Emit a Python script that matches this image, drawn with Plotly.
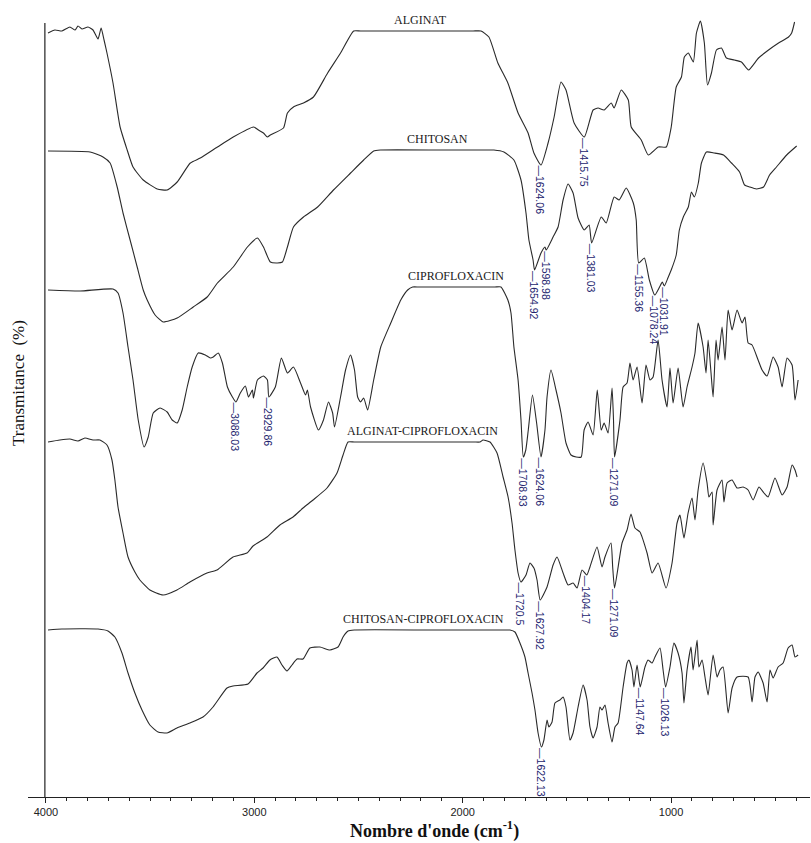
import plotly.graph_objects as go

# ---------------- data (wavenumber cm-1, transmittance in arbitrary stacked units) ----------------
wn_alginat = [3990, 3957, 3923, 3885, 3860, 3846, 3827, 3798, 3774, 3750, 3735, 3721, 3707,
              3678, 3644, 3610, 3582, 3533, 3466, 3418, 3370, 3307, 3259, 3177, 3101, 3004, 2980,
              2956, 2937, 2923, 2860, 2841, 2812, 2764, 2716, 2648, 2586, 2523, 2490, 2200, 1950,
              1912, 1874, 1831,
              1783, 1734, 1686, 1658, 1624, 1590, 1561, 1528, 1504, 1465, 1416, 1374, 1350, 1321,
              1287, 1273, 1239, 1205, 1191, 1143, 1109, 1061, 1023, 999, 975, 950, 936, 917, 893,
              878, 859, 840, 825, 806, 782, 758, 734, 696, 662, 628, 580, 532, 484, 436, 421, 407]
t_alginat = [767, 770, 769, 773, 770, 774, 771, 773, 770, 761, 772, 760, 747,
             717, 673, 650, 633, 620, 611, 610, 618, 637, 642, 653, 663, 673, 670,
             667, 663, 665, 672, 687, 693, 697, 703, 727, 747, 769, 769, 769, 769,
             769, 763, 737,
             717, 687, 667, 647, 635, 657, 683, 718, 710, 677, 663, 690, 692, 690,
             697, 692, 710, 700, 673, 660, 645, 653, 653, 673, 713, 723, 743, 747, 738,
             767, 779, 757, 715, 727, 750, 752, 742, 740, 738, 730, 742, 750, 757, 763, 767, 778]

wn_chitosan = [3990, 3788, 3726, 3692, 3658, 3630, 3596, 3562, 3533, 3514, 3476, 3437, 3370,
               3293, 3226, 3177, 3101, 3033, 2985, 2956, 2923, 2889, 2865, 2841, 2812, 2764,
               2696, 2620, 2538, 2475, 2427, 2395, 2100, 1885, 1850, 1802, 1754, 1720, 1696,
               1682, 1662, 1655,
               1624, 1605, 1599, 1566, 1542, 1518, 1494, 1470, 1446, 1417, 1393, 1381, 1335,
               1311, 1273, 1249, 1215, 1181, 1167, 1155, 1128, 1104, 1078, 1055, 1042, 1032,
               1015, 999, 975, 960, 941, 917, 902, 888, 869, 854, 830, 792, 748, 710, 671, 647,
               623, 590, 556, 527, 494, 445, 397]
t_chitosan = [649, 648, 643, 637, 613, 587, 560, 533, 510, 500, 485, 478, 482,
              493, 503, 517, 533, 553, 562, 553, 538, 537, 538, 553, 573, 583,
              593, 610, 627, 640, 649, 650, 650, 650, 650, 648, 640, 620, 587,
              560, 540, 530,
              547, 553, 550, 563, 573, 600, 616, 607, 582, 570, 575, 557, 583,
              577, 603, 600, 612, 597, 580, 537, 542, 520, 505, 513, 518, 514,
              522, 530, 545, 570, 583, 593, 608, 603, 617, 637, 648, 647, 645, 637, 628, 615,
              613, 611, 613, 625, 633, 645, 654]

wn_cipro = [3990, 3836, 3678, 3654, 3630, 3606, 3582, 3557, 3529, 3509, 3485, 3452, 3418, 3394,
            3370, 3346, 3322, 3298, 3269, 3235, 3211, 3197, 3173, 3153, 3129, 3105, 3088, 3067,
            3043, 3028, 3009, 3004, 2985, 2956, 2937, 2930, 2899, 2870, 2841, 2812, 2778, 2754,
            2745, 2730, 2692, 2668, 2644, 2624, 2615, 2586, 2562, 2538, 2519, 2504, 2490, 2475,
            2456, 2427, 2393, 2345, 2297, 2264, 2240, 2210, 2000, 1845, 1816, 1783, 1768, 1754,
            1734, 1720, 1709,
            1697, 1685, 1665, 1645, 1624, 1605, 1595, 1576, 1552, 1528, 1504, 1480, 1455, 1431,
            1417, 1398, 1374, 1354, 1335, 1321, 1302, 1283, 1276, 1271, 1245, 1230, 1211, 1197,
            1182, 1163, 1139, 1120, 1101, 1086, 1062, 1043, 1019, 1005, 990, 966, 942, 923, 899,
            885, 870, 846, 832, 822, 808, 798, 784, 774, 755, 741, 726, 707, 683, 659, 645, 630,
            611, 582, 563, 539, 510, 486, 467, 443, 419, 405, 390]
t_cipro = [510, 509, 511, 507, 487, 453, 420, 380, 353, 363, 387, 392, 388, 380,
           377, 390, 413, 433, 447, 445, 442, 443, 447, 437, 413, 403, 398, 407,
           414, 403, 410, 402, 420, 424, 420, 403, 413, 442, 427, 433, 417, 405,
           410, 393, 370, 380, 398, 387, 373, 403, 430, 445, 430, 403, 398, 402,
           390, 420, 453, 477, 500, 510, 513, 513, 513, 513, 513, 500, 487, 453,
           420, 380, 343,
           350, 370, 405, 377, 343, 370, 403, 430, 410, 387, 357, 345, 343, 343,
           370, 378, 365, 410, 370, 377, 367, 412, 380, 343, 380, 413, 417, 437,
           420, 433, 397, 435, 420, 423, 460, 420, 393, 432, 397, 432, 393, 413, 433,
           447, 477, 453, 427, 460, 427, 403, 460, 440, 473, 440, 490, 470, 490, 477, 483, 457,
           455, 440, 430, 424, 443, 433, 413, 442, 435, 400, 420]

wn_alg_cipro = [3990, 3933, 3885, 3846, 3813, 3774, 3741, 3707, 3683, 3669, 3654, 3630, 3606,
                3573, 3549, 3501, 3438, 3371, 3309, 3227, 3179, 3102, 3035, 3006, 2939, 2877,
                2814, 2766, 2718, 2651, 2603, 2574, 2550, 2520, 2200, 1945, 1917, 1902, 1869,
                1835, 1806, 1782,
                1763, 1749, 1734, 1720.5, 1696, 1677, 1658, 1643, 1628, 1595, 1566, 1547, 1518,
                1494, 1470, 1451, 1427, 1404, 1389, 1355, 1331, 1317, 1288, 1280, 1271, 1235,
                1211, 1192, 1173, 1149, 1115, 1091, 1062, 1024, 995, 971, 957, 938, 918, 899,
                885, 870, 846, 827, 818, 803, 798, 779, 755, 746, 731, 707, 683, 654, 630, 606,
                578, 554, 534, 501, 467, 443, 419, 405, 395]
t_alg_cipro = [358, 360, 361, 359, 362, 360, 360, 355, 340, 320, 293, 267, 243,
               228, 220, 210, 205, 210, 218, 227, 230, 243, 247, 254, 263, 275,
               283, 292, 300, 312, 327, 345, 358, 358, 358, 358, 358, 360, 358,
               347, 323, 303,
               277, 250, 227, 218, 225, 237, 232, 220, 200, 213, 235, 243, 227,
               215, 217, 212, 230, 225, 233, 253, 233, 243, 257, 233, 212, 257,
               270, 286, 272, 268, 247, 227, 237, 212, 237, 277, 285, 262, 287, 302,
               280, 310, 337, 317, 303, 308, 275, 310, 320, 298, 317, 320, 312, 313, 310, 300,
               313, 307, 303, 322, 305, 313, 335, 330, 323]

wn_chit_cipro = [3990, 3923, 3750, 3702, 3669, 3635, 3606, 3573, 3539, 3501, 3462, 3419, 3371,
                 3309, 3246, 3198, 3131, 3102, 3030, 2987, 2958, 2925, 2891, 2867, 2843, 2819,
                 2795, 2766, 2733, 2685, 2637, 2598, 2574, 2550, 2520, 2150, 1800, 1773, 1749,
                 1725, 1701, 1686,
                 1667, 1653, 1638, 1622, 1610, 1595, 1586, 1571, 1557, 1533, 1518, 1504, 1485,
                 1470, 1446, 1422, 1403, 1389, 1374, 1355, 1341, 1331, 1317, 1302, 1283, 1269,
                 1254, 1230, 1211, 1202, 1187, 1178, 1163, 1148, 1125, 1110, 1091, 1077, 1053,
                 1038, 1026, 1005, 986, 966, 947, 938, 923, 904, 894, 875, 866, 851, 837, 822,
                 798, 779, 765, 750, 726, 707, 683, 630, 611, 597, 582, 558, 539, 525, 510, 486,
                 462, 438, 419, 405, 390]
t_chit_cipro = [170, 171, 171, 169, 163, 147, 127, 107, 90, 75, 68, 67, 72,
                77, 83, 93, 112, 114, 116, 127, 132, 140, 143, 135, 129, 135,
                141, 141, 152, 153, 150, 153, 163, 169, 170, 170, 170, 170, 168,
                157, 143, 127,
                107, 90, 67, 53, 60, 80, 73, 78, 97, 100, 103, 93, 60,
                67, 93, 115, 100, 73, 62, 73, 93, 90, 95, 77, 58, 73,
                77, 113, 137, 140, 130, 113, 135, 113, 133, 140, 137, 143, 152,
                130, 113, 133, 157, 147, 127, 97, 130, 153, 130, 160, 133, 140, 123, 105,
                145, 123, 130, 133, 87, 112, 123, 123, 98, 123, 128, 117, 98, 130, 122, 133,
                137, 152, 155, 143, 145]

series_names = ["ALGINAT", "CHITOSAN", "CIPROFLOXACIN", "ALGINAT-CIPROFLOXACIN",
                "CHITOSAN-CIPROFLOXACIN"]
series_wn = [wn_alginat, wn_chitosan, wn_cipro, wn_alg_cipro, wn_chit_cipro]
series_t = [t_alginat, t_chitosan, t_cipro, t_alg_cipro, t_chit_cipro]
# name label positions (wavenumber of label centre, baseline level)
name_wn = [2200, 2123, 2032, 2195, 2190]
name_t = [771, 652, 515, 360, 172]

# peak labels: (text, wavenumber, transmittance at minimum)
peak_text = ["1624.06", "1415.75",
             "1654.92", "1598.98", "1381.03", "1155.36", "1078.24", "1031.91",
             "3088.03", "2929.86", "1708.93", "1624.06", "1271.09",
             "1720.5", "1627.92", "1404.17", "1271.09",
             "1622.13", "1147.64", "1026.13"]
peak_wn = [1624.06, 1415.75,
           1654.92, 1598.98, 1381.03, 1155.36, 1078.24, 1031.91,
           3088.03, 2929.86, 1708.93, 1624.06, 1271.09,
           1720.5, 1627.92, 1404.17, 1271.09,
           1622.13, 1147.64, 1026.13]
peak_t = [635, 663,
          530, 550, 557, 537, 505, 514,
          398, 403, 343, 343, 343,
          218, 200, 225, 212,
          53, 113, 113]

tick_vals = [4000, 3000, 2000, 1000]
tick_text = ["4000", "3000", "2000", "1000"]

# ---------------- figure ----------------
fig = go.Figure()
for wn, t, nm in zip(series_wn, series_t, series_names):
    fig.add_trace(go.Scatter(x=wn, y=t, mode="lines", name=nm,
                             line=dict(color="#2a2a2a", width=1.1, shape="spline",
                                       smoothing=0.5),
                             showlegend=False))

annotations = []
for nm, xw, yt in zip(series_names, name_wn, name_t):
    annotations.append(dict(x=xw, y=yt, xref="x", yref="y", text=nm, showarrow=False,
                            xanchor="center", yanchor="bottom",
                            font=dict(family="Liberation Serif", size=12, color="#1a1a1a")))
for txt, xw, yt in zip(peak_text, peak_wn, peak_t):
    annotations.append(dict(x=xw, y=yt, xref="x", yref="y", text="\u2014" + txt,
                            showarrow=False, textangle=90, xanchor="center", yanchor="top",
                            borderpad=0,
                            font=dict(family="Liberation Sans", size=10.5, color="#23246e")))
# axis titles
annotations.append(dict(x=2133, y=-0.042, xref="x", yref="paper",
                        text="<b>Nombre d'onde (cm<sup>-1</sup>)</b>", showarrow=False,
                        xanchor="center", yanchor="middle",
                        font=dict(family="Liberation Serif", size=18, color="#111")))
annotations.append(dict(x=-0.0128, y=417, xref="paper", yref="y",
                        text="Transmitance&nbsp;&nbsp;(%)", showarrow=False, textangle=-90,
                        xanchor="center", yanchor="middle",
                        font=dict(family="Liberation Serif", size=17, color="#111")))

fig.update_layout(
    width=811, height=843,
    margin=dict(l=28, r=1, t=20, b=46),
    paper_bgcolor="white", plot_bgcolor="white",
    annotations=annotations,
    shapes=[dict(type="line", xref="x", yref="y", x0=4005, x1=4005, y0=3, y1=777,
                 line=dict(color="#222", width=1.2))],
    xaxis=dict(range=[4086, 333], showgrid=False, zeroline=False,
               showline=True, linecolor="#222", linewidth=1.2,
               ticks="outside", ticklen=5, tickcolor="#222", tickwidth=1,
               tickvals=tick_vals, ticktext=tick_text,
               minor=dict(dtick=100, tick0=0, ticks="outside", ticklen=3, tickcolor="#222"),
               tickfont=dict(family="Liberation Sans", size=11, color="#222")),
    yaxis=dict(range=[3, 780], showgrid=False, zeroline=False, showline=False,
               showticklabels=False, ticks=""),
)

fig.write_html("out.html")
